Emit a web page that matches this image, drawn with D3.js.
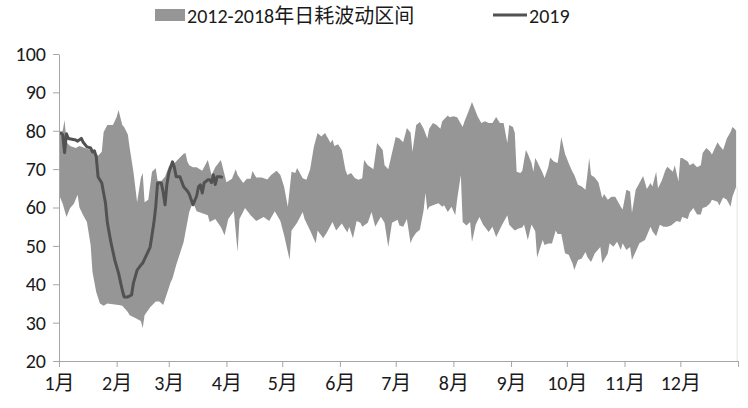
<!DOCTYPE html>
<html><head><meta charset="utf-8">
<script src="https://cdn.jsdelivr.net/npm/d3@7"></script>
<style>body{margin:0;background:#fff}svg{display:block}</style>
</head><body>
<svg id="c" width="748" height="408"></svg>
<script>
// ---- data ----
const monthLabels = ["1月","2月","3月","4月","5月","6月","7月","8月","9月","10月","11月","12月",""];
const monthDays = [0,31,59,90,120,151,181,212,243,273,304,334,365];
const yTicks = [20,30,40,50,60,70,80,90,100];
const legendBand = "2012-2018年日耗波动区间";
const legendLine = "2019";

const bandUpperDays = [0,2,3,4,6,9,11,14,17,19,21,23,24,26,29,31,32,34,35,37,38,40,42,44,45,46,48,50,52,53,55,57,59,61,62,65,67,68,69,70,72,74,77,80,82,84,87,88,90,93,95,96,99,101,103,104,106,109,112,114,117,119,121,123,125,127,128,131,133,135,137,139,141,143,146,147,148,150,152,154,155,157,159,161,163,164,166,169,171,174,175,177,179,181,183,185,187,189,190,192,194,196,198,199,201,203,205,206,209,210,212,214,217,218,220,222,224,225,227,229,231,233,235,237,239,241,242,244,245,246,248,249,251,252,254,255,256,257,260,261,263,264,266,268,269,270,272,274,276,277,279,281,283,284,285,286,288,290,292,293,295,297,299,302,303,305,307,308,310,312,314,316,318,319,321,322,324,326,327,330,331,333,334,335,338,339,341,343,345,346,348,350,351,354,355,357,359,361,362,363,364];
const bandUpper = [79.4,80,82.8,77,76,75.5,76,75.5,75,74.5,73.5,74.5,79.7,81.5,81.5,83.6,85.4,81.5,81,79,75.5,69.3,61.4,67.7,69,61.4,62,69.3,70.2,67,66.9,68,70.6,72,71.5,73,74,74.2,72,71,70.5,70.5,69.6,72.4,68.5,70.5,72.4,70.5,66.6,67.5,70,68.5,66.4,67.5,67.5,69.5,67.8,67.8,67.3,68.5,69.6,68.5,65.4,60.2,69.3,69,70.3,67.6,67.2,70,75.8,79.4,78.5,79.4,76.8,77.7,76,76.5,75,69.8,68.5,69,67.7,67.2,67.6,72.4,71,70,76.8,75,71,70,74.2,78.4,78,77,80.7,79.5,74.5,81.5,82.3,80.5,78,80.5,82,81.5,80.5,82.5,84,83.5,83.8,83.5,81,82.5,84.9,87.5,85,83.8,82,82.5,82,82,83.6,82,82,76.8,81.5,81,79.5,69.3,69,69.5,75,74,71.6,69.3,72.9,72,69,67.7,70.5,73,72,71.6,74.5,78.4,74,71.5,69.3,68.5,65.9,65.5,64.6,68.5,72.9,68.5,67.8,66.5,62.5,63.5,62,62.8,62.8,60.2,59.5,64.6,64.2,58.6,64.6,66.4,68.2,64.8,66.4,65.5,69.3,65,67,69.8,70.6,69.3,71,66.8,72.9,72.9,72,71,71.5,70.5,71,74.2,75.5,74.6,73.8,77,76.2,75,78,79.7,81,80.6,80];

const bandLowerDays = [0,2,4,6,8,10,11,13,15,17,18,20,22,24,26,29,32,34,37,38,41,44,45,46,49,52,54,56,58,60,61,63,67,70,72,74,77,80,81,84,87,89,91,94,96,97,100,103,106,110,113,116,119,121,124,125,128,131,132,135,138,139,142,144,147,149,152,155,156,158,160,162,163,166,168,170,173,175,177,179,182,183,185,187,189,190,192,194,196,197,198,199,201,204,206,207,209,211,213,214,216,217,219,221,222,224,226,228,231,233,235,238,241,242,245,247,249,250,252,254,256,257,260,261,263,265,267,268,270,272,274,276,277,279,281,283,284,286,288,291,292,295,296,298,300,302,303,305,307,308,310,312,315,318,319,321,323,325,327,329,330,332,334,335,338,339,341,343,345,346,348,350,351,354,355,357,359,361,362,364];
const bandLower = [63.3,61,57.5,59.9,61,63.3,60,58,56.2,50.2,43.2,38,35,34.4,35,34.8,34.6,34.4,32.8,31.9,31.2,30.4,28.6,31.9,34,35.5,35.5,34.6,37.5,40.5,41.5,45,51,58.8,61.4,59,58.5,58,56.2,57,54.9,52.8,57,59,48.4,57,59.9,58,56.5,57.5,56.5,59,56.5,52.8,46.3,54,56,58.8,57,54,50.7,54,52,53.5,56.2,54,55.8,53.5,55,52,56.5,56,55,56,58.8,55,57.6,56,49.7,56,56.8,55.3,55,57,50.7,52,53.4,54.2,59.3,63.8,59.3,60.2,60.6,61.1,60.2,60.6,58.8,60.2,58,62,68.5,56.2,55.3,56.2,51,55.5,57.5,55.5,53.6,55,52.3,55.3,58,55.5,54,54.5,54.8,55.6,51.5,55.6,53.8,47,51.5,50.2,50.6,50.6,54,53.1,53.1,48.1,47.7,45.5,43.7,46.3,46.7,48.4,47.1,45.8,48,49.7,45.5,48,50.7,49.8,51.1,48.9,50.7,48.9,49.7,46.3,48.5,50.7,51.5,55,53.8,52.5,55.5,55,55,55.3,55.7,56.5,56.2,57.5,57,58.6,59.9,58.2,58.2,59.9,60.2,61.1,62,61.5,60.5,62.6,62,60.2,62.8,65.4];

const line2019Days = [0,1,2,3,4,5,7,9,10,12,13,15,17,18,19,20,21,23,25,26,28,30,32,34,35,37,39,40,42,44,45,47,49,51,52,53,55,56,57,58,59,61,62,63,65,67,69,70,72,74,75,76,77,78,80,81,82,83,84,85,87,88];
const line2019 = [79.4,79.4,79,74.3,79.2,78,77.8,77.6,77.3,78,77,75.8,75.5,74.5,74.8,73.3,68,66.4,61.1,56,50.7,46.3,42.9,38.5,36.7,36.7,37.2,40.3,43.7,45,45.5,47.6,49.7,56,60.2,66.4,66.4,64,60.7,66,69,71.9,70.5,68,68,65.4,64.3,63.5,60.7,63,65.4,65.9,63.8,66.4,67.2,67.2,66.5,68.5,66,68,68,67.8];

// ---- chart ----
const FONT = "Carlito, 'Liberation Sans Narrow', 'Noto Sans CJK SC', sans-serif";
const BAND = "#969696", LINE = "#525252", AXIS = "#a6a6a6", TEXT = "#1a1a1a";
const svg = d3.select("#c");
const x = d3.scaleLinear().domain([0, 365]).range([59, 738]);
const y = d3.scaleLinear().domain([20, 100]).range([361, 54]);
const ln = d3.line().x(d => x(d[0])).y(d => y(d[1]));

const up = bandUpperDays.map((d, i) => [d, bandUpper[i]]);
const lo = bandLowerDays.map((d, i) => [d, bandLower[i]]).reverse();
svg.append("path").attr("d", ln(up.concat(lo)) + "Z").attr("fill", BAND);

// faint right edge of band
const lastDay = bandLowerDays[bandLowerDays.length - 1];
svg.append("line").attr("x1", x(lastDay) + 1).attr("x2", x(lastDay) + 1)
  .attr("y1", y(bandLower[bandLower.length - 1])).attr("y2", y(20))
  .attr("stroke", "#e3e3e3").attr("stroke-width", 1);

svg.append("path").attr("d", ln(line2019Days.map((d, i) => [d, line2019[i]])))
  .attr("fill", "none").attr("stroke", LINE).attr("stroke-width", 3).attr("stroke-linejoin", "round");

// axes
const ya = svg.append("g").attr("transform", "translate(59,0)")
  .call(d3.axisLeft(y).tickValues(yTicks).tickSize(6).tickPadding(7).tickSizeOuter(0));
const xa = svg.append("g").attr("transform", "translate(0,361)")
  .call(d3.axisBottom(x).tickValues(monthDays).tickSize(6).tickPadding(9).tickSizeOuter(0)
    .tickFormat((d, i) => monthLabels[i]));
[ya, xa].forEach(g => {
  g.selectAll(".domain").attr("stroke", AXIS);
  g.selectAll(".tick line").attr("stroke", AXIS);
  g.selectAll("text").attr("fill", TEXT).style("font-family", FONT).style("font-size", "20px");
});

// legend
svg.append("rect").attr("x", 155).attr("y", 9).attr("width", 30).attr("height", 12).attr("fill", BAND);
svg.append("text").attr("x", 187).attr("y", 23).text(legendBand)
  .attr("fill", TEXT).style("font-family", FONT).style("font-size", "20px");
svg.append("line").attr("x1", 493).attr("x2", 527).attr("y1", 15).attr("y2", 15)
  .attr("stroke", LINE).attr("stroke-width", 3);
svg.append("text").attr("x", 529).attr("y", 23).text(legendLine)
  .attr("fill", TEXT).style("font-family", FONT).style("font-size", "20px");
</script>
</body></html>
